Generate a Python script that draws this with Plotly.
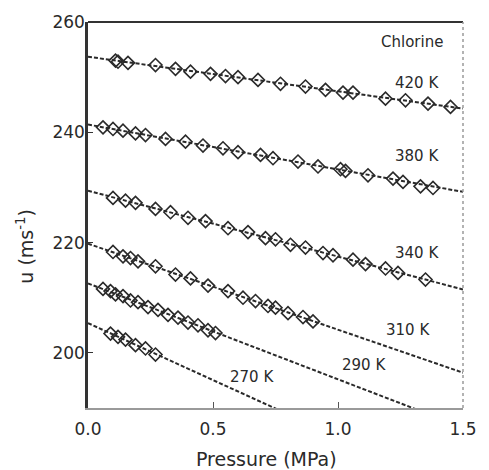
import plotly.graph_objects as go

# ---- data ----
fit_p = [0.0, 1.5]
fit_u = {
    "420 K": [253.7, 244.3],
    "380 K": [241.4, 229.2],
    "340 K": [229.4, 211.5],
    "310 K": [219.8, 196.4],
    "290 K": [212.6, 186.5],
    "270 K": [205.4, 174.4],
}

p420 = [0.11, 0.12, 0.16, 0.27, 0.35, 0.41, 0.49, 0.55, 0.60, 0.68, 0.77, 0.87, 0.95, 1.02, 1.06, 1.19, 1.27, 1.36, 1.45]
u420 = [253.0, 252.8, 252.6, 252.2, 251.5, 251.0, 250.6, 250.2, 250.0, 249.5, 248.8, 248.3, 247.7, 247.2, 247.2, 246.1, 245.8, 245.2, 244.6]

p380 = [0.06, 0.10, 0.14, 0.19, 0.23, 0.31, 0.39, 0.46, 0.54, 0.60, 0.69, 0.74, 0.84, 0.92, 1.01, 1.03, 1.12, 1.22, 1.26, 1.33, 1.38]
u380 = [240.9, 240.6, 240.3, 239.8, 239.5, 238.8, 238.3, 237.6, 237.1, 236.4, 235.9, 235.3, 234.7, 233.8, 233.3, 233.0, 232.2, 231.6, 231.0, 230.2, 229.9]

p340 = [0.10, 0.15, 0.19, 0.27, 0.33, 0.40, 0.47, 0.56, 0.64, 0.71, 0.75, 0.81, 0.87, 0.94, 0.98, 1.06, 1.11, 1.19, 1.24, 1.35]
u340 = [228.1, 227.6, 227.2, 226.1, 225.5, 224.5, 223.9, 222.6, 221.9, 220.8, 220.6, 219.6, 219.1, 218.1, 217.7, 216.9, 216.1, 215.3, 214.5, 213.3]

p310 = [0.10, 0.14, 0.17, 0.20, 0.27, 0.35, 0.41, 0.48, 0.56, 0.62, 0.67, 0.72, 0.75, 0.80, 0.86, 0.90]
u310 = [218.3, 217.5, 217.2, 216.6, 215.7, 214.2, 213.5, 212.2, 211.2, 210.0, 209.4, 208.5, 208.2, 207.2, 206.5, 205.7]

p290 = [0.06, 0.09, 0.11, 0.14, 0.17, 0.20, 0.24, 0.28, 0.32, 0.36, 0.40, 0.44, 0.48, 0.51]
u290 = [211.6, 211.2, 210.6, 210.3, 209.5, 209.2, 208.3, 207.8, 206.9, 206.4, 205.5, 205.0, 204.1, 203.6]

p270 = [0.09, 0.12, 0.15, 0.19, 0.23, 0.27]
u270 = [203.5, 202.9, 202.4, 201.4, 200.8, 199.7]

series = [("420 K", p420, u420), ("380 K", p380, u380), ("340 K", p340, u340),
          ("310 K", p310, u310), ("290 K", p290, u290), ("270 K", p270, u270)]

labels = ["Chlorine", "420 K", "380 K", "340 K", "310 K", "290 K", "270 K"]
label_p = [1.295, 1.317, 1.317, 1.317, 1.279, 1.104, 0.657]
label_u = [256.3, 248.9, 235.7, 218.2, 204.1, 197.8, 195.7]

x_ticks = [0.0, 0.5, 1.0, 1.5]
x_ticktext = ["0.0", "0.5", "1.0", "1.5"]
y_ticks = [200, 220, 240, 260]
x_title = "Pressure (MPa)"
y_title = "u (ms<sup>-1</sup>)"

FONT = "DejaVu Sans"
INK = "#2a2a2a"
W, H = 489, 470
ML, MR, MT, MB = 88, 15, 20, 62

fig = go.Figure()
for name, p, u in series:
    fig.add_trace(go.Scatter(x=fit_p, y=fit_u[name], mode="lines",
                             line=dict(color=INK, width=2, dash="4px,2px"),
                             showlegend=False, hoverinfo="skip"))
    fig.add_trace(go.Scatter(x=p, y=u, mode="markers",
                             marker=dict(symbol="diamond-open", size=10, color=INK,
                                         line=dict(width=1.6, color=INK)),
                             showlegend=False, name=name))

for t, xp, yu in zip(labels, label_p, label_u):
    fig.add_annotation(x=xp, y=yu, text=t, showarrow=False,
                       xanchor="center", yanchor="middle",
                       font=dict(family=FONT, size=15, color=INK))

# axis titles placed as annotations (paper coords)
pw, ph = W - ML - MR, H - MT - MB
fig.add_annotation(xref="paper", yref="paper", x=(272 - ML) / pw, y=(H - MB - 459) / ph,
                   xanchor="center", yanchor="middle",
                   text=x_title, showarrow=False, font=dict(family=FONT, size=19, color=INK))
fig.add_annotation(xref="paper", yref="paper", x=(23 - ML) / pw, y=(H - MB - 245) / ph,
                   xanchor="center", yanchor="middle",
                   text=y_title, showarrow=False, textangle=-90,
                   font=dict(family=FONT, size=19, color=INK))

fig.update_layout(
    width=W, height=H,
    margin=dict(l=ML, r=MR, t=MT, b=MB),
    paper_bgcolor="white", plot_bgcolor="white",
    font=dict(family=FONT, size=17, color=INK),
    xaxis=dict(range=[0, 1.5], tickvals=x_ticks, ticktext=x_ticktext,
               showgrid=False, zeroline=False, showline=True, linecolor="#9a9a9a",
               linewidth=1.5, ticks="inside", ticklen=6, tickcolor="#555",
               ticklabelstandoff=5, tickfont=dict(size=17)),
    yaxis=dict(range=[190, 260], tickvals=y_ticks,
               showgrid=False, zeroline=False, showline=True, linecolor="#333",
               linewidth=2.5, ticks="inside", ticklen=5, tickcolor="#333",
               ticklabelstandoff=-3, tickfont=dict(size=17)),
    shapes=[
        dict(type="line", xref="paper", yref="paper", x0=0, x1=1, y0=1, y1=1,
             line=dict(color="#333", width=2)),
        dict(type="line", xref="paper", yref="paper", x0=1, x1=1, y0=0, y1=1,
             line=dict(color="#9a9a9a", width=1.5, dash="dot")),
    ],
)

fig.write_html("out.html")
